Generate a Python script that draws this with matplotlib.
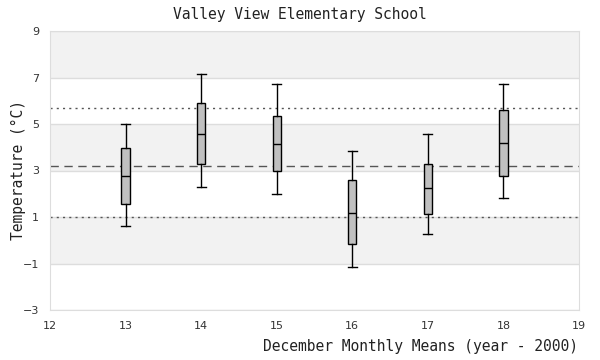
"""December monthly means box chart"""
import matplotlib
matplotlib.use("Agg")
import matplotlib.pyplot as plt

# data
years = [13, 14, 15, 16, 17, 18]
whisker_low = [0.6, 2.31, 2.0, -1.14, 0.28, 1.8]
q1 = [1.58, 3.26, 2.96, -0.18, 1.14, 2.78]
median = [2.78, 4.57, 4.12, 1.19, 2.24, 4.18]
q3 = [3.95, 5.92, 5.33, 2.61, 3.30, 5.62]
whisker_high = [5.0, 7.13, 6.70, 3.86, 4.56, 6.70]

overall_mean = 3.2
upper_ref = 5.7
lower_ref = 1.0

x_ticks = list(range(12, 20))
y_ticks = [-3, -1, 1, 3, 5, 7, 9]

mono = "DejaVu Sans Mono"

fig = plt.figure(figsize=(6, 3.6), dpi=100)
ax = fig.add_axes([50 / 600, 1 - 310 / 360, 529 / 600, 279 / 360])

# alternating bands
for lo, hi in [(7, 9), (3, 5), (-1, 1)]:
    ax.axhspan(lo, hi, color="#f2f2f2", zorder=0, lw=0)
for y in y_ticks:
    ax.axhline(y, color="#dddddd", lw=1, zorder=1)

# reference lines
ax.axhline(upper_ref, color="#555555", lw=1, ls=(0, (1.5, 3)), zorder=2)
ax.axhline(lower_ref, color="#555555", lw=1, ls=(0, (1.5, 3)), zorder=2)
ax.axhline(overall_mean, color="#555555", lw=1, ls=(0, (6, 4)), zorder=2)

stats = []
for i in range(len(years)):
    stats.append({"whislo": whisker_low[i], "q1": q1[i], "med": median[i],
                  "q3": q3[i], "whishi": whisker_high[i], "fliers": []})

ax.bxp(stats, positions=years, widths=0.11, patch_artist=True, showfliers=False,
       manage_ticks=False, zorder=3,
       boxprops=dict(facecolor="#c0c0c0", edgecolor="black", lw=1),
       medianprops=dict(color="black", lw=1),
       whiskerprops=dict(color="black", lw=1),
       capprops=dict(color="black", lw=1), capwidths=0.12)

ax.set_xlim(12, 19)
ax.set_ylim(-3, 9)
ax.set_xticks(x_ticks)
ax.set_yticks(y_ticks)
ax.tick_params(length=0, labelsize=8, colors="#333333", pad=8)
for s in ax.spines.values():
    s.set_color("#dddddd")

fig.text(0.5, 1 - 14 / 360, "Valley View Elementary School", ha="center", va="center",
         family=mono, fontsize=10.5, color="#222222")
fig.text(578 / 600, 1 - 347 / 360, "December Monthly Means (year - 2000)", ha="right",
         va="center", family=mono, fontsize=10.5, color="#222222")
fig.text(18 / 600, 1 - 170 / 360, "Temperature (°C)", ha="center", va="center",
         rotation=90, family=mono, fontsize=10.5, color="#222222")

fig.savefig("out.png", dpi=100)
